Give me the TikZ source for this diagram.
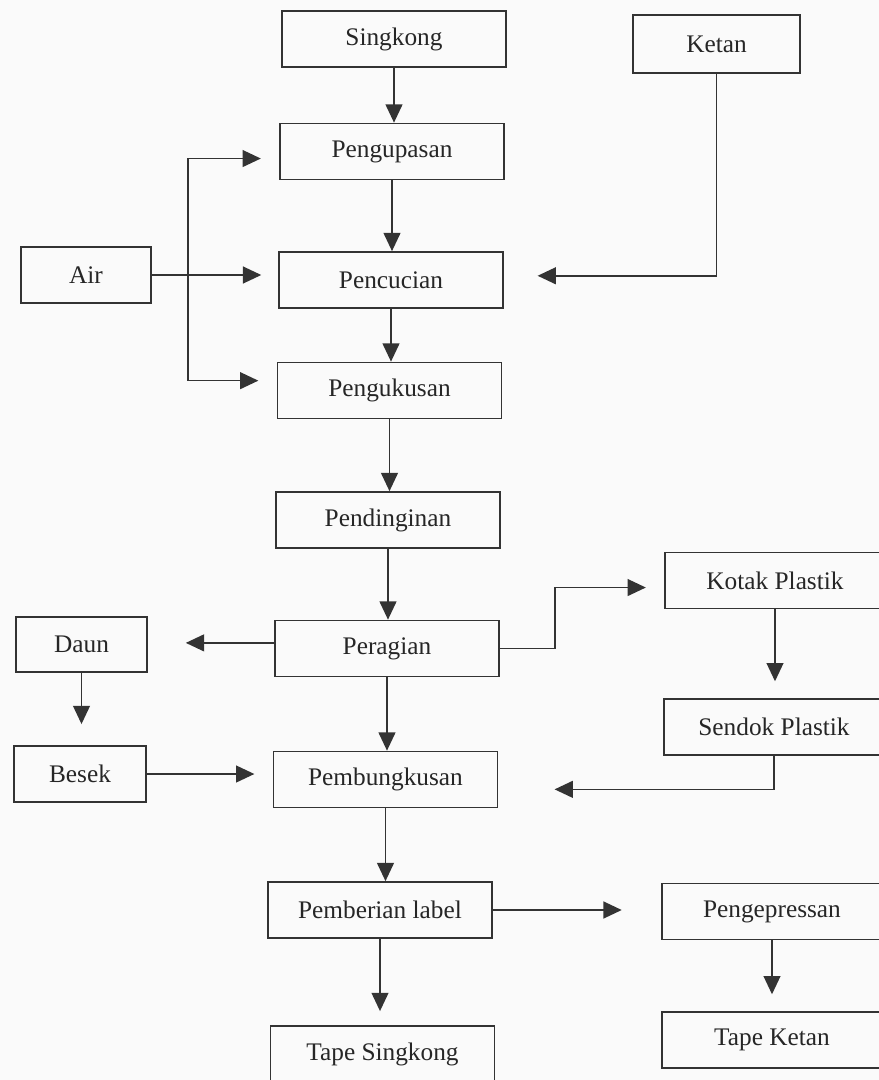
\documentclass[tikz,border=0pt]{standalone}
\usepackage{fontspec}
\setmainfont{Liberation Serif}
\usetikzlibrary{arrows.meta,calc,positioning}

\begin{document}
\begin{tikzpicture}[x=0.025cm,y=-0.025cm,
box/.style={draw=black!80, line width=1.2pt, minimum width=5.6cm, minimum height=1.4cm, inner sep=0pt, font=\fontsize{18}{21}\selectfont, text=black!85},
flow/.style={draw=black!80, line width=1.1pt, -{Triangle[length=13pt,width=12pt]}}]

\useasboundingbox (0,0) rectangle (879,1080);
\fill[black!2] (0,0) rectangle (879,1080);
\clip (0,0) rectangle (879,1080);

% main column
\node[box] (singkong) at (394,39) {Singkong};
\node[box] (pengupasan) at (392,151.5) {Pengupasan};
\node[box] (pencucian) at (391,280) {Pencucian};
\node[box] (pengukusan) at (389.5,390.5) {Pengukusan};
\node[box] (pendinginan) at (388,520) {Pendinginan};
\node[box] (peragian) at (387,648.5) {Peragian};
\node[box] (pembungkusan) at (385.5,779.5) {Pembungkusan};
\node[box] (pemberian) at (380,910) {Pemberian label};
\node[box] (tapesingkong) at (382.5,1054) {Tape Singkong};

% side boxes
\node[box, minimum width=4.175cm, minimum height=1.45cm] (ketan) at (716.5,44) {Ketan};
\node[box, minimum width=3.25cm] (air) at (86,275) {Air};
\node[box, minimum width=3.275cm, minimum height=1.375cm] (daun) at (81.5,644.5) {Daun};
\node[box, minimum width=3.3cm] (besek) at (80,774) {Besek};
\node[box, minimum width=5.5cm] (kotak) at (775,580.5) {Kotak Plastik};
\node[box, minimum width=5.5cm] (sendok) at (774,727) {Sendok Plastik};
\node[box, minimum width=5.5cm] (pengepressan) at (772,911.5) {Pengepressan};
\node[box, minimum width=5.5cm] (tapeketan) at (772,1040) {Tape Ketan};

% straight down
\foreach \a/\b in {singkong/pengupasan, pengupasan/pencucian, pencucian/pengukusan, pengukusan/pendinginan, pendinginan/peragian, peragian/pembungkusan, pembungkusan/pemberian}
  \draw[flow] (\a.south) -- (\a.south |- \b.north);
\foreach \a/\b/\s in {pemberian/tapesingkong/10, kotak/sendok/12, pengepressan/tapeketan/12, daun/besek/15}
  \draw[flow, shorten >=\s pt] (\a.south) -- (\a.south |- \b.north);

% air
\coordinate (split) at ($(air.east)+(36,0)$);
\draw[flow, shorten >=12pt] (air.east) -- (air.east -| pencucian.west);
\draw[flow, shorten >=13pt] (split) |- ([yshift=-5pt]pengupasan.west);
\draw[flow, shorten >=13pt] (split) |- ([yshift=7pt]pengukusan.west);

\draw[flow, shorten >=24pt] (ketan.south) |- ([yshift=3pt]pencucian.east);

% peragian
\draw[flow, shorten >=27pt] ([yshift=4pt]peragian.west) -- ([yshift=4pt]peragian.west -| daun.east);
\draw[flow, shorten >=13pt] (peragian.east) -- ++(55,0) |- ([yshift=-5pt]kotak.west);

% pembungkusan
\draw[flow, shorten >=13pt] (besek.east) -- (besek.east -| pembungkusan.west);
\draw[flow, shorten >=40pt] (sendok.south) |- ([yshift=-7pt]pembungkusan.east);

\draw[flow, shorten >=28pt] (pemberian.east) -- (pemberian.east -| pengepressan.west);

\end{tikzpicture}
\end{document}
